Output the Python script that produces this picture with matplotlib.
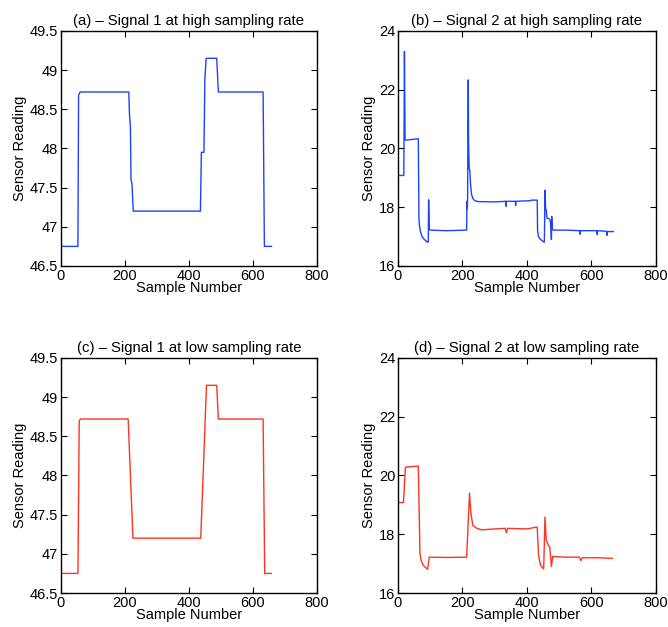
import matplotlib.pyplot as plt
import numpy as np

plt.rcParams['font.family'] = ['Liberation Sans', 'DejaVu Sans']

# signal 1 breakpoints (sample, reading)
s1_x = [0, 53, 55, 60, 212, 214, 217, 219, 222, 226, 436, 439, 447, 450, 454, 487, 492, 632, 636, 658]
s1_y_high = [46.75, 46.75, 48.68, 48.72, 48.72, 48.45, 48.28, 47.6, 47.55, 47.2, 47.2, 47.95, 47.95,
             48.9, 49.15, 49.15, 48.72, 48.72, 46.75, 46.75]
s1_x_low = [0, 53, 57, 62, 210, 225, 437, 455, 487, 492, 632, 637, 658]
s1_y_low = [46.75, 46.75, 48.7, 48.72, 48.72, 47.2, 47.2, 49.15, 49.15, 48.72, 48.72, 46.75, 46.75]

# signal 2 high sampling rate
s2_x_high = [0, 18, 19, 20, 22, 24, 40, 63, 65, 67, 70, 74, 80, 86, 92, 94, 95, 97, 100, 150, 213, 214,
             215, 216, 217, 218, 219, 221, 223, 225, 228, 232, 238, 250, 300, 334, 335, 336, 364, 365,
             366, 410, 414, 432, 433, 436, 440, 446, 452, 454, 455, 456, 458, 460, 462, 470, 472, 474,
             476, 477, 478, 480, 482, 520, 564, 565, 566, 617, 618, 619, 647, 648, 649, 668]
s2_y_high = [19.08, 19.08, 21.0, 23.3, 20.3, 20.28, 20.3, 20.33, 17.6, 17.35, 17.15, 17.02, 16.92, 16.86,
             16.81, 16.82, 18.25, 17.25, 17.22, 17.2, 17.22, 18.2, 17.95, 18.3, 20.5, 22.33, 20.2, 19.3,
             19.25, 18.8, 18.45, 18.3, 18.22, 18.19, 18.18, 18.2, 18.03, 18.2, 18.2, 18.05, 18.2,
             18.22, 18.24, 18.24, 17.2, 17.0, 16.93, 16.87, 16.82, 16.81, 17.5, 18.58, 17.95, 17.9,
             17.63, 17.6, 17.55, 17.4, 16.9, 17.68, 17.3, 17.24, 17.22, 17.22, 17.2, 17.08, 17.2,
             17.2, 17.07, 17.2, 17.18, 17.04, 17.17, 17.17]

# signal 2 low sampling rate
s2_x_low = [0, 17, 23, 40, 63, 66, 68, 72, 78, 85, 92, 97, 150, 213, 222, 226, 232, 245, 260, 300, 333,
            336, 340, 400, 428, 432, 436, 442, 449, 452, 456, 460, 468, 471, 476, 480, 520, 563, 567,
            572, 620, 665]
s2_y_low = [19.08, 19.08, 20.28, 20.3, 20.32, 18.6, 17.36, 17.1, 16.95, 16.87, 16.81, 17.22, 17.21, 17.22,
            19.4, 18.75, 18.3, 18.2, 18.15, 18.18, 18.2, 18.05, 18.2, 18.18, 18.24, 18.24, 17.3,
            16.95, 16.85, 16.82, 18.58, 17.8, 17.6, 17.55, 16.9, 17.24, 17.22, 17.22, 17.1, 17.2,
            17.2, 17.18]

blue = '#2040ff'
red = '#ff3322'

fig = plt.figure(figsize=(6.68, 6.27), dpi=100)

panels = [
    ([0.0913, 0.5758, 0.383, 0.375], s1_x, s1_y_high, blue, (46.5, 49.5), np.arange(46.5, 49.6, 0.5),
     '(a) \u2013 Signal 1 at high sampling rate'),
    ([0.5958, 0.5758, 0.386, 0.375], s2_x_high, s2_y_high, blue, (16, 24), np.arange(16, 25, 2),
     '(b) \u2013 Signal 2 at high sampling rate'),
    ([0.0913, 0.0542, 0.383, 0.375], s1_x_low, s1_y_low, red, (46.5, 49.5), np.arange(46.5, 49.6, 0.5),
     '(c) \u2013 Signal 1 at low sampling rate'),
    ([0.5958, 0.0542, 0.386, 0.375], s2_x_low, s2_y_low, red, (16, 24), np.arange(16, 25, 2),
     '(d) \u2013 Signal 2 at low sampling rate'),
]

for rect, xs, ys, col, ylim, yt, title in panels:
    ax = fig.add_axes(rect)
    ax.plot(xs, ys, color=col, lw=1.0)
    ax.set_xlim(0, 800)
    ax.set_ylim(*ylim)
    ax.set_xticks([0, 200, 400, 600, 800])
    ax.set_yticks(yt)
    ax.set_yticklabels(['%g' % v for v in yt])
    ax.tick_params(direction='in', top=True, right=True, labelsize=10.5, length=4, pad=2)
    ax.set_xlabel('Sample Number', fontsize=10.5, labelpad=-1)
    ax.set_ylabel('Sensor Reading', fontsize=10.5, labelpad=2)
    ax.set_title(title, fontsize=10.7, pad=4)
    for sp in ax.spines.values():
        sp.set_linewidth(1.0)

fig.savefig('out.png', dpi=100)
